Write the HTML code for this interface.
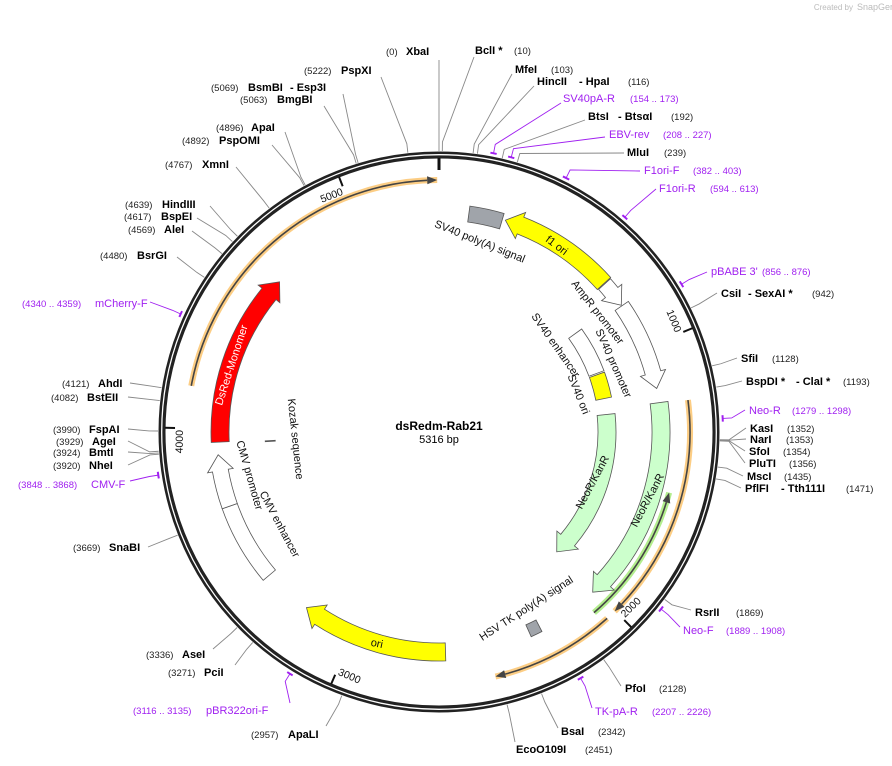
<!DOCTYPE html>
<html><head><meta charset="utf-8"><style>
body{margin:0;background:#fff;}
svg{display:block;font-family:"Liberation Sans","DejaVu Sans",sans-serif;}
.b{font-weight:bold;font-size:11px;fill:#000}
.n{font-size:9.5px;fill:#222}
.p{font-size:11px;fill:#a020f0}
.pn{font-size:9.5px;fill:#a020f0}
.f{font-size:10.5px;fill:#111}
</style></head><body>
<svg id="map" width="892" height="766" viewBox="0 0 892 766" xmlns="http://www.w3.org/2000/svg">
<text x="853" y="10" font-size="8" fill="#bbb" text-anchor="end">Created by</text>
<text x="857" y="10" font-size="9" fill="#bbb">SnapGene</text>
<g id="marks"></g>
<text x="439" y="430" text-anchor="middle" font-weight="bold" font-size="12">dsRedm-Rab21</text>
<text x="439" y="443" text-anchor="middle" font-size="11">5316 bp</text>
</svg>
<script>
const TOTAL = 5316;
const featNames = ["SV40 poly(A) signal","f1 ori","AmpR promoter","SV40 promoter","SV40 enhancer","SV40 ori","NeoR/KanR","NeoR/KanR inner","HSV TK poly(A) signal","ori","CMV enhancer","CMV promoter","Kozak sequence","DsRed-Monomer"];
const featStart = [115,257,712,818,800,1035,1217,1241,2255,2633,3394,3699,3940,3948];
const featEnd   = [245,709,815,1162,1028,1160,2011,2001,2300,3205,3699,3900,3944,4626];
const featDir   = [0,-1,1,1,0,0,1,1,0,1,0,1,0,1];
const orfStart = [4143,1221,2037];
const orfEnd   = [5310,2002,2466];
const greenStart = [1547];
const greenEnd = [2058];
const tickValues = [1000,2000,3000,4000,5000];
const primerNames = ["SV40pA-R","EBV-rev","F1ori-F","F1ori-R","pBABE 3'","Neo-R","Neo-F","TK-pA-R","pBR322ori-F","CMV-F","mCherry-F"];
const primerStart = [154,208,382,594,856,1279,1889,2207,3116,3848,4340];
const primerEnd   = [173,227,403,613,876,1298,1908,2226,3135,3868,4359];
const enzBp = [0,10,103,116,192,239,942,1128,1193,1352,1353,1354,1356,1435,1471,1869,2128,2342,2451,2957,3271,3336,3669,3920,3924,3929,3990,4082,4121,4480,4569,4617,4639,4767,4892,4896,5063,5069,5222];

const featStyle = [
 {r:220,w:16,fill:"#a0a4aa"},{r:222,w:18,fill:"#ffff00"},{r:222,w:16,fill:"#fff"},{r:222,w:16,fill:"#fff"},
 {r:168,w:16,fill:"#fff"},{r:168,w:16,fill:"#ffff00"},{r:222,w:18,fill:"#ccffcc"},{r:168,w:18,fill:"#ccffcc"},
 {r:218,w:13,fill:"#a0a4aa"},{r:220,w:18,fill:"#ffff00"},{r:222,w:16,fill:"#fff"},{r:222,w:16,fill:"#fff"},
 {r:169,w:10,fill:"#888"},{r:219,w:18,fill:"#ff0000"}];
const orfR = [252,251,251];

const CX=439, CY=432, R=277;
const NS="http://www.w3.org/2000/svg";
const g=document.getElementById('marks');
function ang(bp){return bp/TOTAL*2*Math.PI;}
function pt(bp,r){const a=ang(bp);return [CX+r*Math.sin(a),CY-r*Math.cos(a)];}
function P(p){return p[0].toFixed(2)+" "+p[1].toFixed(2);}
function arc(a,b,r,sweep){const large=Math.abs(b-a)/TOTAL>0.5?1:0;return " A "+r+" "+r+" 0 "+large+" "+sweep+" "+P(pt(b,r));}
function mk(tag,attrs){const e=document.createElementNS(NS,tag);for(const k in attrs)e.setAttribute(k,attrs[k]);return e;}

let bb=mk('circle',{cx:CX,cy:CY,r:R,fill:'none',stroke:'#222','stroke-width':7});


g.appendChild(bb);
let bb2=mk('circle',{cx:CX,cy:CY,r:R+0.3,fill:'none',stroke:'#fff','stroke-width':1.3});


g.appendChild(bb2);
let t0=mk('line',{x1:CX,y1:CY-R+3,x2:CX,y2:CY-R-3+18,stroke:'#111','stroke-width':3});


g.appendChild(t0);

tickValues.forEach(v=>{
  const a=pt(v,R-3),b=pt(v,R-13);
  const l=mk('line',{x1:a[0],y1:a[1],x2:b[0],y2:b[1],stroke:'#111','stroke-width':2});
  
  
  g.appendChild(l);
  let deg=v/TOTAL*360; let flip=deg>90&&deg<270; let rot=flip?deg-180:deg;
  const p=pt(v,R-12);
  const t=mk('text',{x:0,y:0,'font-size':10.5,fill:'#111','text-anchor':flip?'start':'end',transform:`translate(${p[0]},${p[1]}) rotate(${rot}) translate(${flip?2:-2},${flip?-2:9})`});
  t.textContent=v;
  
  
  g.appendChild(t);
});

function bandArrow(a,b,r,dir,color,w,name){
  const hb=10/(2*Math.PI*r)*TOTAL;
  let s=a,e=b;
  if(dir===1)e=b-hb; else s=a+hb;
  const band=mk('path',{d:"M "+P(pt(a,r))+arc(a,b,r,1),fill:'none',stroke:color,'stroke-width':w,'stroke-linecap':'butt','stroke-opacity':0.85});
  
  
  g.appendChild(band);
  const ln=mk('path',{d:"M "+P(pt(s,r))+arc(s,e,r,1),fill:'none',stroke:'#444','stroke-width':1.6});
  
  
  g.appendChild(ln);
  const tip=dir===1?b:a, base=dir===1?e:s;
  const hd=mk('path',{d:"M "+P(pt(tip,r))+" L "+P(pt(base,r+4))+" L "+P(pt(base,r-4))+" Z",fill:'#444'});
  
  
  g.appendChild(hd);
}
orfStart.forEach((s,i)=>bandArrow(s,orfEnd[i],orfR[i],1,'#fbc46e',6,'orf-'+i));
greenStart.forEach((s,i)=>bandArrow(s,greenEnd[i],238,-1,'#a6ea7a',6,'neo-orf'));

featStart.forEach((s,i)=>{
  const e=featEnd[i], st=featStyle[i], d=featDir[i];
  const ro=st.r+st.w/2, ri=st.r-st.w/2;
  let path;
  const hb=Math.min(16/(2*Math.PI*st.r)*TOTAL,(e-s)*0.6);
  if(d===0){
    path="M "+P(pt(s,ro))+arc(s,e,ro,1)+" L "+P(pt(e,ri))+arc(e,s,ri,0)+" Z";
  } else if(d===1){
    const m=e-hb;
    path="M "+P(pt(s,ro))+arc(s,m,ro,1)+" L "+P(pt(m,ro+5))+" L "+P(pt(e,st.r))+" L "+P(pt(m,ri-5))+" L "+P(pt(m,ri))+arc(m,s,ri,0)+" Z";
  } else {
    const m=s+hb;
    path="M "+P(pt(e,ro))+arc(e,m,ro,0)+" L "+P(pt(m,ro+5))+" L "+P(pt(s,st.r))+" L "+P(pt(m,ri-5))+" L "+P(pt(m,ri))+arc(m,e,ri,1)+" Z";
  }
  const el=mk('path',{d:path,fill:st.fill,stroke:'#555','stroke-width':0.8});
  
  
  g.appendChild(el);
});

const flabels=[
 ["SV40 poly(A) signal",480,241,22,"#111"],
 ["f1 ori",557,245,37,"#111"],
 ["AmpR promoter",598,312,52,"#111"],
 ["SV40 promoter",614,363,66,"#111"],
 ["SV40 enhancer",556,345,55,"#111"],
 ["SV40 ori",579,394,68,"#111"],
 ["NeoR/KanR",592,482,-62,"#111"],
 ["NeoR/KanR",647,500,-62,"#111"],
 ["HSV TK poly(A) signal",526,608,-33,"#111"],
 ["ori",377,643,12,"#111"],
 ["CMV enhancer",280,524,62,"#111"],
 ["CMV promoter",250,475,74,"#111"],
 ["Kozak sequence",296,439,84,"#111"],
 ["DsRed-Monomer",231,365,-72,"#fff"]];
flabels.forEach(f=>{
  const t=mk('text',{x:0,y:4,'font-size':11,fill:f[4],'text-anchor':'middle',transform:`translate(${f[1]},${f[2]}) rotate(${f[3]})`});
  t.textContent=f[0];
  
  
  g.appendChild(t);
});

const primerLayout=[[561,103,[[563,"p"],[630,"pn"]],98],[605,137,[[609,"p"],[663,"pn"]],134],[640,171,[[644,"p"],[693,"pn"]],170],[656,189,[[659,"p"],[710,"pn"]],188],
 [707,272,[[711,"p"],[762,"pn"]],271],[745,410,[[749,"p"],[792,"pn"]],410],[680,627,[[683,"p"],[726,"pn"]],630],[592,708,[[595,"p"],[652,"pn"]],711],
 [290,703,[[206,"p"],[133,"pn"]],710],[130,481,[[91,"p"],[18,"pn"]],484],[150,302,[[95,"p"],[22,"pn"]],303]];
primerStart.forEach((s,i)=>{
  const e=primerEnd[i], r=284;
  const a=mk('path',{d:"M "+P(pt(s,r))+arc(s,e,r,1),fill:'none',stroke:'#a020f0','stroke-width':2});
  
  
  g.appendChild(a);
  const L=primerLayout[i], mid=(s+e)/2, p1=pt(mid,284), p2=pt(mid,293);
  const ln=mk('polyline',{points:`${P(p1)} ${P(p2)} ${L[0]} ${L[1]}`,fill:'none',stroke:'#a020f0','stroke-width':0.9});
  
  
  g.appendChild(ln);
  const y=L[3]+4;
  const t1=mk('text',{x:L[2][0][0],y:y,class:'p'});t1.textContent=primerNames[i];
  
  
  g.appendChild(t1);
  const t2=mk('text',{x:L[2][1][0],y:y,class:'pn'});t2.textContent="("+s+" .. "+e+")";
  
  
  g.appendChild(t2);
});

const enzLayout=[
 [439,60,51,[[386,"(0)","n"],[406,"XbaI","b"]]],
 [474,57,50,[[475,"BclI *","b"],[514,"(10)","n"]]],
 [512,74,69,[[515,"MfeI","b"],[551,"(103)","n"]]],
 [534,86,81,[[537,"HincII","b"],[579,"- HpaI","b"],[628,"(116)","n"]]],
 [585,120,116,[[588,"BtsI","b"],[618,"- BtsαI","b"],[671,"(192)","n"]]],
 [624,153,152,[[627,"MluI","b"],[664,"(239)","n"]]],
 [717,293,293,[[721,"CsiI","b"],[748,"- SexAI *","b"],[812,"(942)","n"]]],
 [737,358,358,[[741,"SfiI","b"],[772,"(1128)","n"]]],
 [742,381,381,[[746,"BspDI *","b"],[796,"- ClaI *","b"],[843,"(1193)","n"]]],
 [746,428,428,[[750,"KasI","b"],[787,"(1352)","n"]]],
 [746,439,439,[[750,"NarI","b"],[786,"(1353)","n"]]],
 [745,451,451,[[749,"SfoI","b"],[783,"(1354)","n"]]],
 [745,463,463,[[749,"PluTI","b"],[789,"(1356)","n"]]],
 [743,476,476,[[747,"MscI","b"],[784,"(1435)","n"]]],
 [741,488,488,[[745,"PflFI","b"],[781,"- Tth111I","b"],[846,"(1471)","n"]]],
 [691,610,612,[[695,"RsrII","b"],[736,"(1869)","n"]]],
 [621,686,688,[[625,"PfoI","b"],[659,"(2128)","n"]]],
 [558,728,731,[[561,"BsaI","b"],[598,"(2342)","n"]]],
 [515,742,749,[[516,"EcoO109I","b"],[585,"(2451)","n"]]],
 [326,726,734,[[251,"(2957)","n"],[288,"ApaLI","b"]]],
 [235,665,672,[[168,"(3271)","n"],[204,"PciI","b"]]],
 [213,649,654,[[146,"(3336)","n"],[182,"AseI","b"]]],
 [148,547,547,[[73,"(3669)","n"],[109,"SnaBI","b"]]],
 [128,465,465,[[53,"(3920)","n"],[89,"NheI","b"]]],
 [128,452,452,[[53,"(3924)","n"],[89,"BmtI","b"]]],
 [128,441,441,[[56,"(3929)","n"],[92,"AgeI","b"]]],
 [128,429,429,[[53,"(3990)","n"],[89,"FspAI","b"]]],
 [128,397,397,[[51,"(4082)","n"],[87,"BstEII","b"]]],
 [130,383,383,[[62,"(4121)","n"],[98,"AhdI","b"]]],
 [177,257,255,[[100,"(4480)","n"],[137,"BsrGI","b"]]],
 [192,231,229,[[128,"(4569)","n"],[164,"AleI","b"]]],
 [197,218,216,[[124,"(4617)","n"],[161,"BspEI","b"]]],
 [210,206,204,[[125,"(4639)","n"],[162,"HindIII","b"]]],
 [236,167,164,[[165,"(4767)","n"],[202,"XmnI","b"]]],
 [272,145,140,[[182,"(4892)","n"],[219,"PspOMI","b"]]],
 [285,132,127,[[216,"(4896)","n"],[251,"ApaI","b"]]],
 [324,106,99,[[240,"(5063)","n"],[277,"BmgBI","b"]]],
 [343,94,87,[[211,"(5069)","n"],[248,"BsmBI","b"],[290,"- Esp3I","b"]]],
 [381,77,70,[[304,"(5222)","n"],[341,"PspXI","b"]]]];
enzBp.forEach((bp,i)=>{
  const L=enzLayout[i], p1=pt(bp,281), p2=pt(bp,290);
  const ln=mk('polyline',{points:`${P(p1)} ${P(p2)} ${L[0]} ${L[1]}`,fill:'none',stroke:'#888','stroke-width':0.9});
  
  
  g.appendChild(ln);
  L[3].forEach(pc=>{
    const t=mk('text',{x:pc[0],y:L[2]+4,class:pc[2]});
    t.textContent=pc[1];
    
    
    g.appendChild(t);
  });
});
</script>
</body></html>
